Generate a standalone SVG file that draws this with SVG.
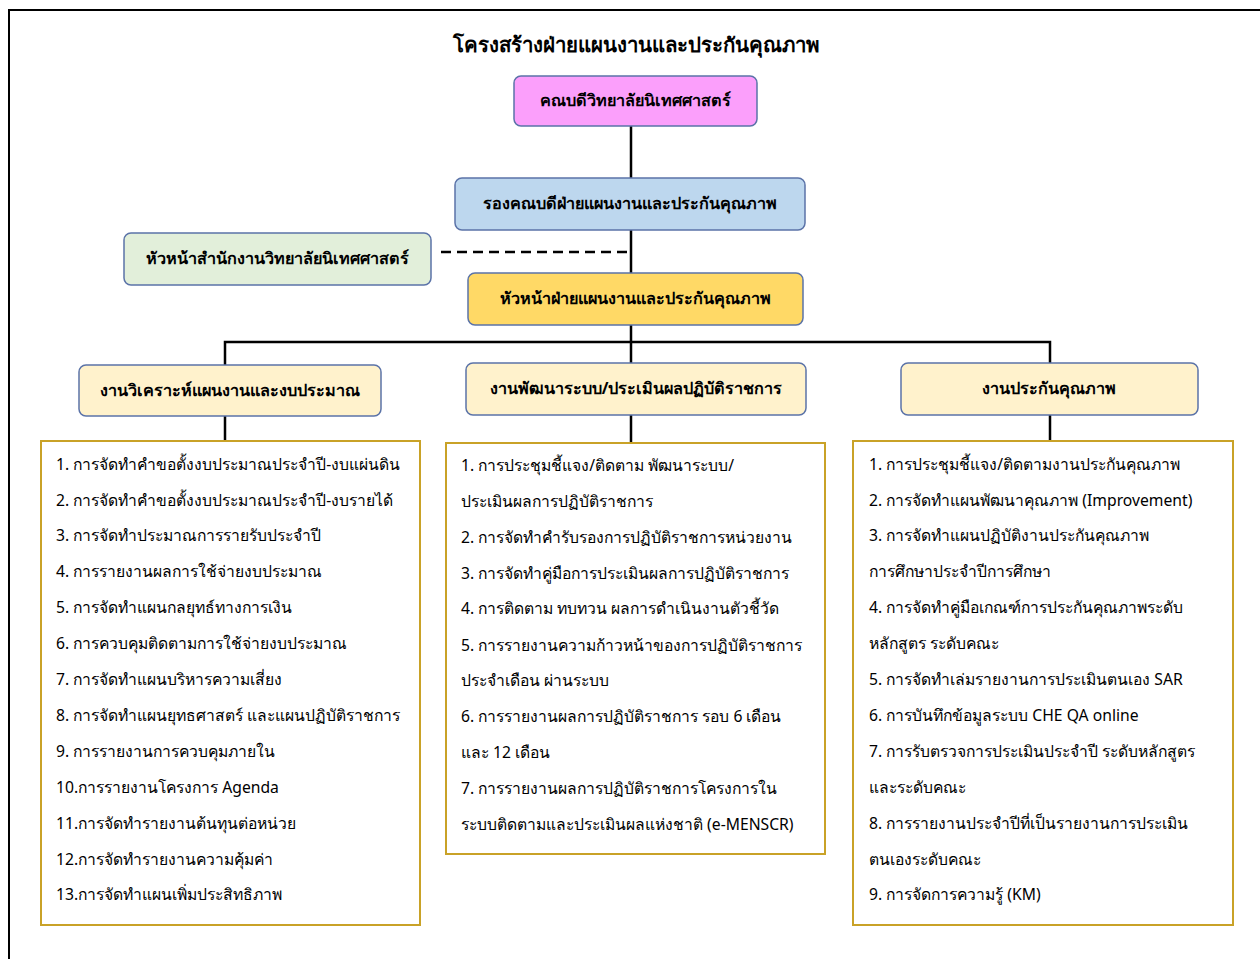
<svg xmlns="http://www.w3.org/2000/svg" width="1260" height="959" viewBox="0 0 1260 959">
<style>
.t{font-family:"Noto Sans","DejaVu Sans",sans-serif;fill:#000}
.title{font-size:20.4px;font-weight:bold;text-anchor:middle}
.nt{font-size:16.2px;font-weight:bold;text-anchor:middle}
.li{font-size:15.7px}
.box{stroke:#5b73a8;stroke-width:1.5}
.list{fill:#fff;stroke:#c9a227;stroke-width:2}
.ln{stroke:#000;stroke-width:2.5;fill:none}
</style>
<rect x="9" y="10" width="1300" height="1000" fill="#fff" stroke="#000" stroke-width="2"/>
<text class="t title" x="636" y="52">โครงสร้างฝ่ายแผนงานและประกันคุณภาพ</text>
<g id="connectors">
<path class="ln" d="M631 126V343M225 365V342H1050V363M631 343V363M225 416V441M631 415V443M1050 415V441"/>
<path d="M441 252H631" stroke="#000" stroke-width="2.5" stroke-dasharray="10,6"/>
</g>
<g id="dean"><rect class="box" x="514" y="76" width="243" height="50" rx="7" fill="#fb9ffb"/><text class="t nt" x="635" y="106">คณบดีวิทยาลัยนิเทศศาสตร์</text></g>
<g id="vice"><rect class="box" x="455" y="178" width="350" height="52" rx="7" fill="#bdd7ee"/><text class="t nt" x="630" y="209">รองคณบดีฝ่ายแผนงานและประกันคุณภาพ</text></g>
<g id="office"><rect class="box" x="124" y="233" width="307" height="52" rx="7" fill="#e2efda"/><text class="t nt" x="277" y="264">หัวหน้าสำนักงานวิทยาลัยนิเทศศาสตร์</text></g>
<g id="head"><rect class="box" x="468" y="273" width="335" height="52" rx="7" fill="#ffd966"/><text class="t nt" x="635" y="304">หัวหน้าฝ่ายแผนงานและประกันคุณภาพ</text></g>
<g id="unit1"><rect class="box" x="79" y="365" width="302" height="51" rx="7" fill="#fff2cc"/><text class="t nt" x="230" y="396">งานวิเคราะห์แผนงานและงบประมาณ</text></g>
<g id="unit2"><rect class="box" x="466" y="363" width="340" height="52" rx="7" fill="#fff2cc"/><text class="t nt" x="636" y="394">งานพัฒนาระบบ/ประเมินผลปฏิบัติราชการ</text></g>
<g id="unit3"><rect class="box" x="901" y="363" width="297" height="52" rx="7" fill="#fff2cc"/><text class="t nt" x="1049" y="394">งานประกันคุณภาพ</text></g>
<g id="list1"><rect class="list" x="41" y="441" width="379" height="484"/>
<text class="t li" x="56" y="470">1. การจัดทำคำขอตั้งงบประมาณประจำปี-งบแผ่นดิน</text>
<text class="t li" x="56" y="506">2. การจัดทำคำขอตั้งงบประมาณประจำปี-งบรายได้</text>
<text class="t li" x="56" y="541">3. การจัดทำประมาณการรายรับประจำปี</text>
<text class="t li" x="56" y="577">4. การรายงานผลการใช้จ่ายงบประมาณ</text>
<text class="t li" x="56" y="613">5. การจัดทำแผนกลยุทธ์ทางการเงิน</text>
<text class="t li" x="56" y="649">6. การควบคุมติดตามการใช้จ่ายงบประมาณ</text>
<text class="t li" x="56" y="685">7. การจัดทำแผนบริหารความเสี่ยง</text>
<text class="t li" x="56" y="721">8. การจัดทำแผนยุทธศาสตร์ และแผนปฏิบัติราชการ</text>
<text class="t li" x="56" y="757">9. การรายงานการควบคุมภายใน</text>
<text class="t li" x="56" y="793">10.การรายงานโครงการ Agenda</text>
<text class="t li" x="56" y="829">11.การจัดทำรายงานต้นทุนต่อหน่วย</text>
<text class="t li" x="56" y="865">12.การจัดทำรายงานความคุ้มค่า</text>
<text class="t li" x="56" y="900">13.การจัดทำแผนเพิ่มประสิทธิภาพ</text>
</g>
<g id="list2"><rect class="list" x="446" y="443" width="379" height="411"/>
<text class="t li" x="461" y="471">1. การประชุมชี้แจง/ติดตาม พัฒนาระบบ/</text>
<text class="t li" x="461" y="507">ประเมินผลการปฏิบัติราชการ</text>
<text class="t li" x="461" y="543">2. การจัดทำคำรับรองการปฏิบัติราชการหน่วยงาน</text>
<text class="t li" x="461" y="579">3. การจัดทำคู่มือการประเมินผลการปฏิบัติราชการ</text>
<text class="t li" x="461" y="614">4. การติดตาม ทบทวน ผลการดำเนินงานตัวชี้วัด</text>
<text class="t li" x="461" y="651">5. การรายงานความก้าวหน้าของการปฏิบัติราชการ</text>
<text class="t li" x="461" y="686">ประจำเดือน ผ่านระบบ</text>
<text class="t li" x="461" y="722">6. การรายงานผลการปฏิบัติราชการ รอบ 6 เดือน</text>
<text class="t li" x="461" y="758">และ 12 เดือน</text>
<text class="t li" x="461" y="794">7. การรายงานผลการปฏิบัติราชการโครงการใน</text>
<text class="t li" x="461" y="830">ระบบติดตามและประเมินผลแห่งชาติ (e-MENSCR)</text>
</g>
<g id="list3"><rect class="list" x="853" y="441" width="380" height="484"/>
<text class="t li" x="869" y="470">1. การประชุมชี้แจง/ติดตามงานประกันคุณภาพ</text>
<text class="t li" x="869" y="506">2. การจัดทำแผนพัฒนาคุณภาพ (Improvement)</text>
<text class="t li" x="869" y="541">3. การจัดทำแผนปฏิบัติงานประกันคุณภาพ</text>
<text class="t li" x="869" y="577">การศึกษาประจำปีการศึกษา</text>
<text class="t li" x="869" y="613">4. การจัดทำคู่มือเกณฑ์การประกันคุณภาพระดับ</text>
<text class="t li" x="869" y="649">หลักสูตร ระดับคณะ</text>
<text class="t li" x="869" y="685">5. การจัดทำเล่มรายงานการประเมินตนเอง SAR</text>
<text class="t li" x="869" y="721">6. การบันทึกข้อมูลระบบ CHE QA online</text>
<text class="t li" x="869" y="757">7. การรับตรวจการประเมินประจำปี ระดับหลักสูตร</text>
<text class="t li" x="869" y="793">และระดับคณะ</text>
<text class="t li" x="869" y="829">8. การรายงานประจำปีที่เป็นรายงานการประเมิน</text>
<text class="t li" x="869" y="865">ตนเองระดับคณะ</text>
<text class="t li" x="869" y="900">9. การจัดการความรู้ (KM)</text>
</g>
</svg>
